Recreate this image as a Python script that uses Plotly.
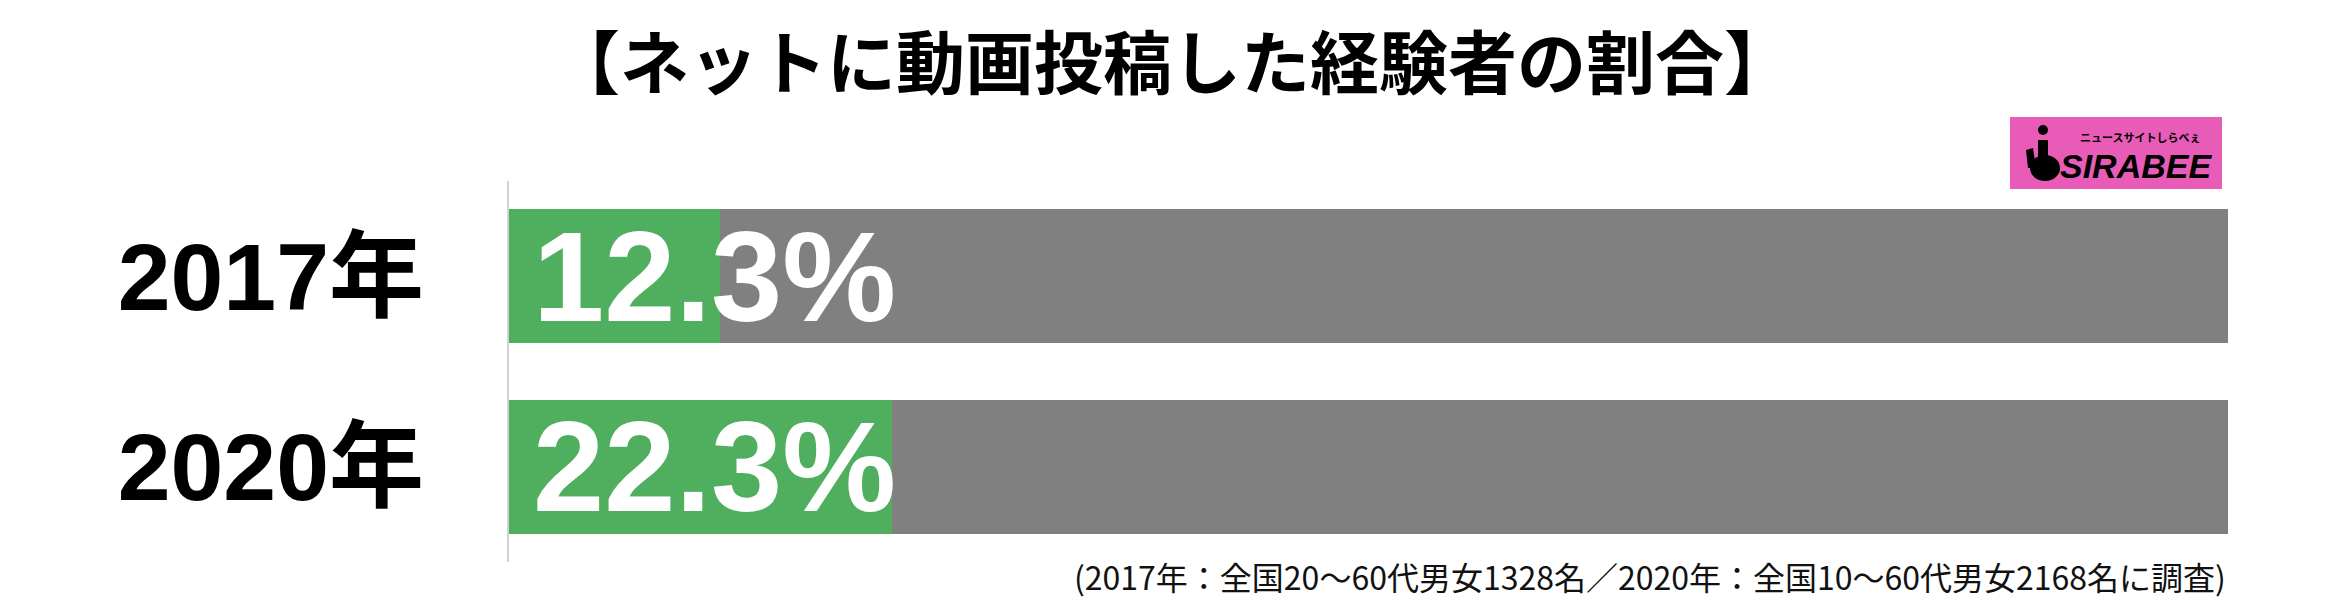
import plotly.graph_objects as go

# ---- data ----
categories = ["2017年", "2020年"]
values = [12.3, 22.3]
value_labels = ["12.3%", "22.3%"]
total = 100

title_text = "【ネットに動画投稿した経験者の割合】"
note_text = "(2017年：全国20～60代男女1328名／2020年：全国10～60代男女2168名に調査)"

# ---- geometry (page pixels; the page body has an 8px margin) ----
OFF = 8
W, H = 2344 - 2 * OFF, 611 - 2 * OFF
L, R, T, B = 509 - OFF, 116 - OFF, 181 - OFF, 49 - OFF
PW, PH = W - L - R, H - T - B


def px(x):
    return (x - OFF - L) / PW


def py(y):
    return (H - B - (y - OFF)) / PH


GREEN = "#50AE5F"
GRAY = "#808080"
PINK = "#E85CB8"

rest = [total - v for v in values]

fig = go.Figure()
fig.add_trace(go.Bar(y=categories, x=values, orientation="h",
                     marker=dict(color=GREEN, line=dict(width=0)),
                     hoverinfo="skip"))
fig.add_trace(go.Bar(y=categories, x=rest, orientation="h",
                     marker=dict(color=GRAY, line=dict(width=0)),
                     hoverinfo="skip"))

annotations = []
for c, lab in zip(categories, value_labels):
    annotations.append(dict(x=0, y=c, xref="x", yref="y", text=lab,
                            showarrow=False, xanchor="left", yanchor="middle",
                            xshift=22,
                            font=dict(family="Liberation Sans, Arial, sans-serif",
                                      size=128, color="white", weight="bold")))

annotations.append(dict(x=1, y=py(576), xref="paper", yref="paper", text=note_text,
                        showarrow=False, xanchor="right", yanchor="middle",
                        font=dict(family="Noto Sans CJK JP, sans-serif", size=32,
                                  color="#111111")))

# logo text
annotations.append(dict(x=px(2136), y=py(166), xref="paper", yref="paper", text="<i>SIRABEE</i>",
                        showarrow=False, xanchor="center", yanchor="middle",
                        font=dict(family="Liberation Sans Narrow, Liberation Sans, sans-serif",
                                  size=34, color="black", weight="bold")))
annotations.append(dict(x=px(2140), y=py(137), xref="paper", yref="paper", text="ニュースサイトしらべぇ",
                        showarrow=False, xanchor="center", yanchor="middle",
                        font=dict(family="Noto Sans CJK JP, sans-serif",
                                  size=11, color="black", weight="bold")))

shapes = [
    dict(type="rect", xref="paper", yref="paper", x0=px(2010), x1=px(2222),
         y0=py(189), y1=py(117), fillcolor=PINK, line=dict(width=0), layer="above"),
    dict(type="circle", xref="paper", yref="paper", x0=px(2038), x1=px(2048),
         y0=py(135), y1=py(125), fillcolor="black", line=dict(width=0), layer="above"),
    dict(type="rect", xref="paper", yref="paper", x0=px(2038), x1=px(2048),
         y0=py(165), y1=py(140), fillcolor="black", line=dict(width=0), layer="above"),
    dict(type="circle", xref="paper", yref="paper", x0=px(2030), x1=px(2060),
         y0=py(181), y1=py(155), fillcolor="black", line=dict(width=0), layer="above"),
    dict(type="path", xref="paper", yref="paper",
         path=f"M {px(2026)} {py(150)} L {px(2033)} {py(148)} L {px(2036)} {py(168)} L {px(2028)} {py(168)} Z",
         fillcolor="black", line=dict(width=0), layer="above"),
]

fig.update_layout(
    width=W, height=H,
    margin=dict(l=L, r=R, t=T, b=B, pad=0),
    paper_bgcolor="white", plot_bgcolor="white",
    barmode="stack", bargap=0.295, showlegend=False,
    title=dict(text=title_text, x=0.5, xref="container", xanchor="center",
               y=1 - (65 - OFF) / H, yref="container", yanchor="middle",
               font=dict(family="Noto Sans CJK JP, sans-serif", size=69,
                         color="black", weight="bold")),
    xaxis=dict(range=[0, total], visible=False, fixedrange=True),
    yaxis=dict(autorange="reversed", showline=True, linecolor="#D3D3D3", linewidth=2,
               showgrid=False, zeroline=False, ticks="", ticklabelstandoff=64,
               tickfont=dict(family="Liberation Sans, Noto Sans CJK JP, sans-serif",
                             size=95, color="black", weight="bold"),
               fixedrange=True),
    annotations=annotations, shapes=shapes,
)

fig.write_html("out.html")
